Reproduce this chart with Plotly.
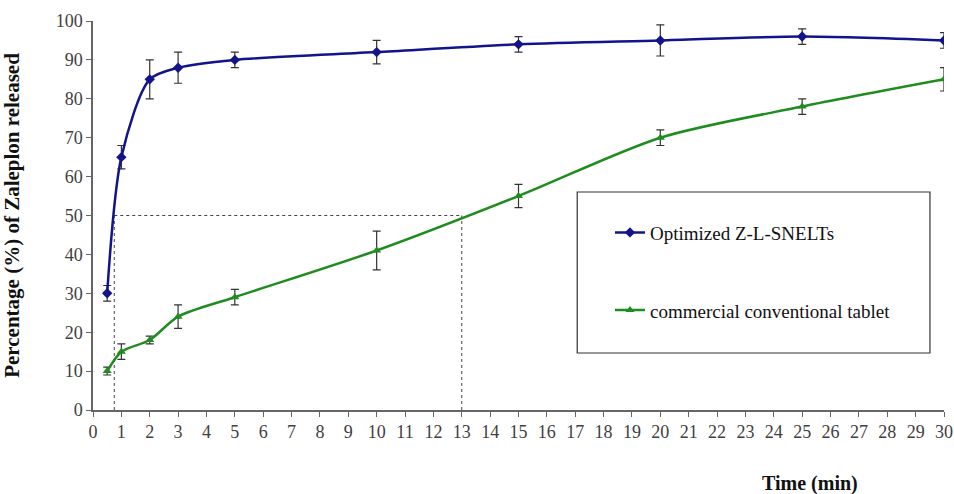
import plotly.graph_objects as go

time = [0.5, 1, 2, 3, 5, 10, 15, 20, 25, 30]
optimized = [30, 65, 85, 88, 90, 92, 94, 95, 96, 95]
optimized_err = [2, 3, 5, 4, 2, 3, 2, 4, 2, 2]
commercial = [10, 15, 18, 24, 29, 41, 55, 70, 78, 85]
commercial_err = [1, 2, 1, 3, 2, 5, 3, 2, 2, 3]
x_ticks = list(range(0, 31))
y_ticks = list(range(0, 101, 10))

serif = "Liberation Serif"

fig = go.Figure()
fig.add_trace(go.Scatter(
    x=time, y=optimized, mode="lines+markers", name="Optimized Z-L-SNELTs",
    line=dict(color="#14148A", width=2.5, shape="spline", smoothing=0.8),
    marker=dict(symbol="diamond", size=8, color="#14148A"),
    error_y=dict(type="data", array=optimized_err, color="#333333", thickness=1.2, width=4),
    legendgroup="a",
))
fig.add_trace(go.Scatter(
    x=time, y=commercial, mode="lines+markers", name="commercial conventional tablet",
    line=dict(color="#1E8C1E", width=2.5, shape="spline", smoothing=0.8),
    marker=dict(symbol="triangle-up", size=8, color="#1E8C1E"),
    error_y=dict(type="data", array=commercial_err, color="#333333", thickness=1.2, width=4),
    legendgroup="b",
))

dash = dict(color="#444444", width=1, dash="dot")
fig.add_shape(type="line", x0=0.75, x1=13, y0=50, y1=50, line=dash, layer="below")
fig.add_shape(type="line", x0=0.75, x1=0.75, y0=0, y1=50, line=dash, layer="below")
fig.add_shape(type="line", x0=13, x1=13, y0=0, y1=50, line=dash, layer="below")

fig.add_shape(type="rect", xref="paper", yref="paper",
              x0=0.569, x1=0.9835, y0=0.1465, y1=0.5604,
              line=dict(color="#333333", width=1.2), fillcolor="white", layer="below")

fig.add_annotation(text="<b>Time (min)</b>", xref="paper", yref="paper",
                   x=(810 - 93) / 851, y=-0.19, xanchor="center", yanchor="middle",
                   showarrow=False, font=dict(family=serif, size=20, color="#111111"))

fig.update_layout(
    width=954, height=494,
    margin=dict(l=93, r=10, t=21, b=84, autoexpand=False),
    paper_bgcolor="white", plot_bgcolor="white",
    font=dict(family=serif, size=18, color="#333333"),
    showlegend=True,
    legend=dict(x=0.6075, y=0.505, xanchor="left", yanchor="top",
                bgcolor="rgba(0,0,0,0)", tracegroupgap=50, traceorder="grouped",
                itemwidth=30,
                font=dict(family=serif, size=19, color="#111111")),
)
fig.update_xaxes(range=[0, 30], tickvals=x_ticks, ticktext=[str(v) for v in x_ticks],
                 showgrid=False, zeroline=False, showline=True, linecolor="#666666",
                 linewidth=1.5, ticks="outside", ticklen=5, tickcolor="#666666",
                 automargin=False,
                 tickfont=dict(family=serif, size=18, color="#404040"))
fig.update_yaxes(range=[0, 100], tickvals=y_ticks,
                 showgrid=False, zeroline=False, showline=True, linecolor="#666666",
                 linewidth=1.5, ticks="outside", ticklen=5, tickcolor="#666666",
                 automargin=False,
                 tickfont=dict(family=serif, size=18, color="#404040"),
                 title=dict(text="<b>Percentage (%) of Zaleplon released</b>",
                            font=dict(family=serif, size=21, color="#111111"), standoff=40))

fig.write_html("out.html")
